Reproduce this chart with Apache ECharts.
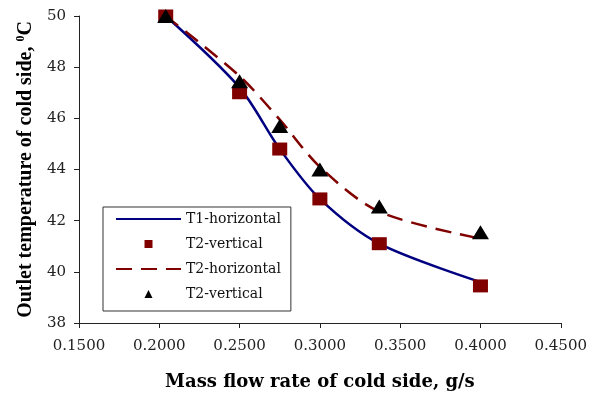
<!DOCTYPE html>
<html><head><meta charset="utf-8">
<script src="https://cdn.jsdelivr.net/npm/echarts@6/dist/echarts.min.js"></script>
<style>html,body{margin:0;padding:0;background:#fff}#c{width:590px;height:398px}</style>
</head><body><div id="c"></div>
<script>
const flowRates = [0.204, 0.25, 0.275, 0.3, 0.337, 0.4];
const t1Horizontal = [50.0, 47.2, 44.8, 42.85, 41.1, 39.6];
const t2VerticalSquares = [50.0, 47.0, 44.8, 42.85, 41.1, 39.45];
const t2Horizontal = [50.0, 47.65, 45.95, 44.1, 42.35, 41.3];
const t2VerticalTriangles = [50.0, 47.45, 45.7, 44.0, 42.55, 41.55];
const xTicks = {min: 0.15, max: 0.45, step: 0.05};
const yTicks = {min: 38, max: 50, step: 2};

const pair = (ys) => flowRates.map((x, i) => [x, ys[i]]);
const serifW = 'DejaVu Serif';
const chart = echarts.init(document.getElementById('c'));
chart.setOption({
  animation: false,
  backgroundColor: '#fff',
  grid: {left: 79, right: 27, top: 16, bottom: 75},
  legend: {
    orient: 'vertical', left: 103, top: 207,
    itemWidth: 65, itemHeight: 10, itemGap: 9,
    padding: [4, 10, 9, 12],
    borderColor: '#333', borderWidth: 1, backgroundColor: '#fff',
    textStyle: {fontFamily: serifW, fontSize: 14, color: '#111', lineHeight: 16},
    data: [
      {name: 'T1-horizontal', itemStyle: {opacity: 0}},
      {name: 'T2-vertical'},
      {name: 'T2-horizontal', itemStyle: {opacity: 0}},
      {name: 'T2-vertical '}
    ]
  },
  xAxis: {
    type: 'value', min: xTicks.min, max: xTicks.max, interval: xTicks.step,
    name: 'Mass flow rate of cold side, g/s', nameLocation: 'middle', nameGap: 50,
    nameTextStyle: {fontFamily: serifW, fontWeight: 'bold', fontSize: 18, color: '#000'},
    axisLine: {show: true, lineStyle: {color: '#222', width: 1}},
    axisTick: {show: true, length: 5, lineStyle: {color: '#222'}},
    axisLabel: {margin: 16, fontFamily: serifW, fontSize: 15, color: '#222',
      formatter: v => v.toFixed(4)},
    splitLine: {show: false}
  },
  yAxis: {
    type: 'value', min: yTicks.min, max: yTicks.max, interval: yTicks.step,
    name: '{a|Outlet temperature of cold side, }{s|0}{a|C}',
    nameLocation: 'middle', nameGap: 41, nameRotate: 90,
    nameTextStyle: {
      rich: {
        a: {fontFamily: 'Liberation Serif', fontWeight: 'bold', fontSize: 20, color: '#000', lineHeight: 22},
        s: {fontFamily: 'Liberation Serif', fontWeight: 'bold', fontSize: 12, color: '#000', verticalAlign: 'top', lineHeight: 22, padding: [0, 0, 8, 0]}
      }
    },
    axisLine: {show: true, lineStyle: {color: '#222', width: 1}},
    axisTick: {show: true, length: 5, lineStyle: {color: '#222'}},
    axisLabel: {margin: 13, fontFamily: serifW, fontSize: 15, color: '#222'},
    splitLine: {show: false}
  },
  series: [
    {
      name: 'T1-horizontal', type: 'line', data: pair(t1Horizontal), smooth: 0.3,
      symbol: 'none', z: 2,
      lineStyle: {color: '#000080', width: 2.5}, itemStyle: {color: '#000080'}
    },
    {
      name: 'T2-horizontal', type: 'line', data: pair(t2Horizontal), smooth: 0.3,
      symbol: 'none', z: 2,
      lineStyle: {color: '#800000', width: 2.5, type: [16, 9]}, itemStyle: {color: '#800000'}
    },
    {
      name: 'T2-vertical', type: 'line', data: pair(t2VerticalSquares),
      symbol: 'rect', symbolSize: [15, 13], z: 3,
      lineStyle: {width: 0, opacity: 0}, itemStyle: {color: '#800000'}
    },
    {
      name: 'T2-vertical ', type: 'line', data: pair(t2VerticalTriangles),
      symbol: 'triangle', symbolSize: [17, 14], z: 4,
      lineStyle: {width: 0, opacity: 0}, itemStyle: {color: '#000'}
    }
  ]
});
</script></body></html>
